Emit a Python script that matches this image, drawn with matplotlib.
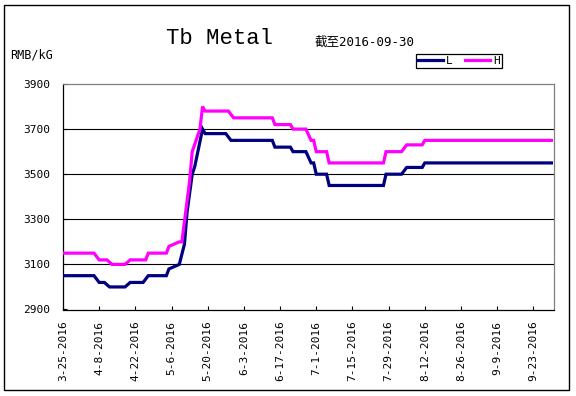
import pandas as pd
import matplotlib
matplotlib.use('Agg')
import matplotlib.pyplot as plt
import matplotlib.dates as mdates
from matplotlib.patches import Rectangle

# price points (RMB/kg), flat runs given by their end points
low_dates = ['2016-03-25', '2016-04-06', '2016-04-08', '2016-04-10', '2016-04-12',
             '2016-04-18', '2016-04-20', '2016-04-25', '2016-04-27', '2016-05-04',
             '2016-05-05', '2016-05-07', '2016-05-09', '2016-05-11', '2016-05-12',
             '2016-05-14', '2016-05-15', '2016-05-16', '2016-05-18', '2016-05-19',
             '2016-05-27', '2016-05-29', '2016-06-14', '2016-06-15', '2016-06-21',
             '2016-06-22', '2016-06-27', '2016-06-29', '2016-06-30', '2016-07-01',
             '2016-07-05', '2016-07-06', '2016-07-27', '2016-07-28', '2016-08-03',
             '2016-08-05', '2016-08-11', '2016-08-12', '2016-09-30']
low_vals = [3050, 3050, 3020, 3020, 3000,
            3000, 3020, 3020, 3050, 3050,
            3080, 3090, 3100, 3190, 3330,
            3500, 3535, 3590, 3700, 3680,
            3680, 3650, 3650, 3620, 3620,
            3600, 3600, 3550, 3550, 3500,
            3500, 3450, 3450, 3500, 3500,
            3530, 3530, 3550, 3550]

high_dates = ['2016-03-25', '2016-04-06', '2016-04-08', '2016-04-11', '2016-04-13',
              '2016-04-18', '2016-04-20', '2016-04-26', '2016-04-27', '2016-05-04',
              '2016-05-05', '2016-05-09', '2016-05-10', '2016-05-13', '2016-05-14',
              '2016-05-17', '2016-05-18', '2016-05-19', '2016-05-28', '2016-05-30',
              '2016-06-14', '2016-06-15', '2016-06-21', '2016-06-22', '2016-06-27',
              '2016-06-29', '2016-06-30', '2016-07-01', '2016-07-05', '2016-07-06',
              '2016-07-27', '2016-07-28', '2016-08-03', '2016-08-05', '2016-08-11',
              '2016-08-12', '2016-09-30']
high_vals = [3150, 3150, 3120, 3120, 3100,
             3100, 3120, 3120, 3150, 3150,
             3180, 3200, 3200, 3470, 3600,
             3700, 3800, 3780, 3780, 3750,
             3750, 3720, 3720, 3700, 3700,
             3650, 3650, 3600, 3600, 3550,
             3550, 3600, 3600, 3630, 3630,
             3650, 3650]

tick_dates = ['2016-03-25', '2016-04-08', '2016-04-22', '2016-05-06', '2016-05-20',
              '2016-06-03', '2016-06-17', '2016-07-01', '2016-07-15', '2016-07-29',
              '2016-08-12', '2016-08-26', '2016-09-09', '2016-09-23']
tick_labels = ['3-25-2016', '4-8-2016', '4-22-2016', '5-6-2016', '5-20-2016',
               '6-3-2016', '6-17-2016', '7-1-2016', '7-15-2016', '7-29-2016',
               '8-12-2016', '8-26-2016', '9-9-2016', '9-23-2016']
y_ticks = [2900, 3100, 3300, 3500, 3700, 3900]

W, H = 576, 396
fig = plt.figure(figsize=(W / 100, H / 100), dpi=100)
ax = fig.add_axes([63 / W, 1 - 309.5 / H, (554 - 63) / W, (309.5 - 84) / H])

mono = 'DejaVu Sans Mono'

ax.plot(pd.to_datetime(low_dates), low_vals, color='#000080', lw=2.3, label='L',
        solid_joinstyle='miter', zorder=3)
ax.plot(pd.to_datetime(high_dates), high_vals, color='#ff00ff', lw=2.3, label='H',
        solid_joinstyle='miter', zorder=3)

ax.set_xlim(pd.Timestamp('2016-03-25'), pd.Timestamp('2016-10-01'))
ax.set_ylim(2900, 3900)

ax.set_yticks(y_ticks)
ax.set_yticklabels([str(v) for v in y_ticks], family=mono, fontsize=8)
ax.yaxis.grid(True, color='black', lw=0.8)
ax.get_ygridlines()[-1].set_visible(False)
ax.get_ygridlines()[0].set_visible(False)

ax.set_xticks(pd.to_datetime(tick_dates))
ax.set_xticklabels(tick_labels, rotation=90, family=mono, fontsize=8)

ax.tick_params(axis='y', direction='in', length=3, pad=9, colors='black')
ax.tick_params(axis='x', direction='in', length=3, pad=8)

for s in ['top', 'right']:
    ax.spines[s].set_color('#808080')
for s in ['left', 'bottom']:
    ax.spines[s].set_color('black')
for s in ax.spines.values():
    s.set_linewidth(0.9)

fig.text(220 / W, 1 - 39 / H, 'Tb Metal', ha='center', va='center',
         family='Liberation Mono', fontsize=16)
fig.text(315 / W, 1 - 42 / H, '截至2016-09-30', ha='left', va='center',
         family=[mono, 'Noto Sans CJK SC'], fontsize=9)
fig.text(10 / W, 1 - 55.5 / H, 'RMB/kG', ha='left', va='center',
         family=mono, fontsize=8.5)

leg = ax.legend(loc='upper left', bbox_to_anchor=(416 / W, 1 - 54.3 / H),
                bbox_transform=fig.transFigure, ncol=2, fancybox=False,
                edgecolor='black', framealpha=1, borderpad=0.15,
                handlelength=2.25, handletextpad=0.3, columnspacing=1.1,
                borderaxespad=0, prop={'family': mono, 'size': 8})
leg.get_frame().set_linewidth(0.9)

fig.patches.append(Rectangle((4 / W, 1 - 390 / H), 565 / W, 385 / H,
                             transform=fig.transFigure, fill=False,
                             ec='black', lw=1))

fig.savefig('out.png', dpi=100)
